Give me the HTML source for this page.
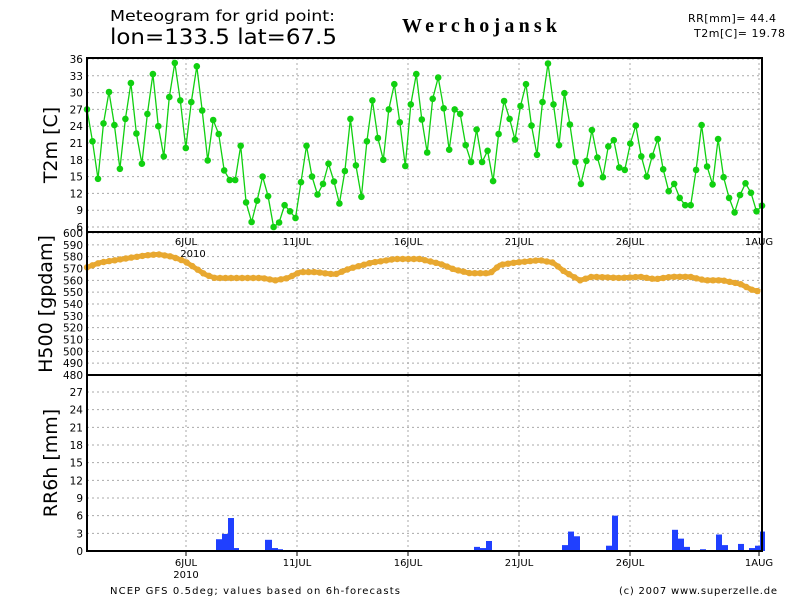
<!DOCTYPE html>
<html><head><meta charset="utf-8"><style>
html,body{margin:0;padding:0;background:#fff;}
svg{display:block;font-family:"DejaVu Sans","Liberation Sans",sans-serif;}
</style></head><body>
<svg id="s" width="800" height="600" viewBox="0 0 800 600" xmlns="http://www.w3.org/2000/svg">
<rect width="800" height="600" fill="#fff"/>
<text x="110" y="21" font-size="15" textLength="225" lengthAdjust="spacingAndGlyphs">Meteogram for grid point:</text>
<text x="110" y="44" font-size="21" textLength="227" lengthAdjust="spacingAndGlyphs">lon=133.5 lat=67.5</text>
<text x="402" y="32" font-size="20" font-weight="bold" font-family="Liberation Serif,serif" textLength="155" lengthAdjust="spacing">Werchojansk</text>
<text x="688" y="22" font-size="11" textLength="88">RR[mm]= 44.4</text>
<text x="694" y="37" font-size="11" textLength="91">T2m[C]= 19.78</text>
<text transform="translate(57,145) rotate(-90)" font-size="19" text-anchor="middle">T2m [C]</text>
<text transform="translate(52,304) rotate(-90)" font-size="19" text-anchor="middle">H500 [gpdam]</text>
<text transform="translate(57,463) rotate(-90)" font-size="19" text-anchor="middle">RR6h [mm]</text>
<text x="110" y="594" font-size="10" textLength="290">NCEP GFS 0.5deg; values based on 6h-forecasts</text>
<text x="619" y="594" font-size="10" textLength="158">(c) 2007 www.superzelle.de</text>
<g id="g"></g>
</svg>
<script>
var g=document.getElementById('g'),h='';
var X0=87,X1=762;
function el(s){h+=s;}
var xs=[186,297,408,519,630,759],lab=['6JUL','11JUL','16JUL','21JUL','26JUL','1AUG'];
function vgrid(y0,y1){xs.forEach(function(x){el('<line x1="'+x+'" y1="'+y0+'" x2="'+x+'" y2="'+y1+'" stroke="#aaa" stroke-dasharray="2,3"/>');});}
function yT(v){return 59+(36-v)*(168/30);}
vgrid(58,232);
for(var v=6;v<=36;v+=3){var y=yT(v);el('<line x1="'+X0+'" y1="'+y+'" x2="'+X1+'" y2="'+y+'" stroke="#aaa" stroke-dasharray="2,3"/>');el('<text x="83" y="'+(y+4)+'" font-size="10.5" text-anchor="end">'+v+'</text>');}
function yH(v){return 233+(600-v)*(142/120);}
vgrid(232,375);
for(var v=480;v<=600;v+=10){var y=yH(v);el('<line x1="'+X0+'" y1="'+y+'" x2="'+X1+'" y2="'+y+'" stroke="#aaa" stroke-dasharray="2,3"/>');el('<text x="83" y="'+(y+4)+'" font-size="10.5" text-anchor="end">'+v+'</text>');}
function yR(v){return 551-v*(159/27);}
vgrid(375,551);
for(var v=0;v<=27;v+=3){var y=yR(v);el('<line x1="'+X0+'" y1="'+y+'" x2="'+X1+'" y2="'+y+'" stroke="#aaa" stroke-dasharray="2,3"/>');el('<text x="83" y="'+(y+4)+'" font-size="10.5" text-anchor="end">'+v+'</text>');}
xs.forEach(function(x,i){el('<text x="'+x+'" y="245" font-size="10" text-anchor="middle">'+lab[i]+'</text>');el('<text x="'+x+'" y="566" font-size="10" text-anchor="middle">'+lab[i]+'</text>');
el('<line x1="'+x+'" y1="551" x2="'+x+'" y2="556" stroke="#000"/>');});
el('<text x="193" y="257" font-size="10" text-anchor="middle">2010</text>');
el('<text x="186" y="578" font-size="10" text-anchor="middle">2010</text>');
var bars=[[216,222,2],[222,228,2.9],[228,234,5.6],[234,239,0.5],[265,272,1.9],[272,278,0.5],[278,283,0.3],[283,289,0.1],[474,480,0.7],[480,486,0.5],[486,492,1.7],[562,568,1],[568,574,3.3],[574,580,2.5],[606,612,0.9],[612,618,6],[618,624,0.1],[662,672,0.1],[672,678,3.6],[678,684,2.1],[684,690,0.7],[700,706,0.3],[716,722,2.8],[722,728,1],[738,744,1.2],[749,755,0.5],[755,760,0.9],[760,765,3.3]];
bars.forEach(function(b){var y=yR(b[2]);el('<rect x="'+b[0]+'" y="'+y+'" width="'+(b[1]-b[0])+'" height="'+(551-y)+'" fill="#2040ff"/>');});
var hp=[[87,571],[100,575],[115,577],[130,579],[145,581],[158,582],[172,580],[185,576],[196,570],[205,565],[215,562],[240,562],[262,562],[275,560],[288,562],[300,567],[315,567],[335,565],[350,570],[372,575],[395,578],[420,578],[440,574],[455,569],[470,566],[490,566],[500,573],[515,575],[540,577],[553,575],[565,567],[580,560],[592,563],[620,562],[640,563],[655,561],[672,563],[690,563],[705,560],[722,560],[740,557],[752,552],[762,550]];
var hpts=[];for(var x=87;x<=762;x+=2.77){for(var k=0;k<hp.length-1&&hp[k+1][0]<x;k++);var a=hp[k],b=hp[k+1]||a;var t=b[0]==a[0]?0:(x-a[0])/(b[0]-a[0]);hpts.push([x,yH(a[1]+(b[1]-a[1])*t)]);}
el('<polyline fill="none" stroke="#e8a830" stroke-width="5" points="'+hpts.map(function(p){return p[0].toFixed(1)+','+p[1].toFixed(1)}).join(' ')+'"/>');
hpts.forEach(function(p,i){if(i%2==0)el('<circle cx="'+p[0].toFixed(1)+'" cy="'+p[1].toFixed(1)+'" r="3.2" fill="#e8a830"/>');});
var T=[27,21.3,14.6,24.5,30.1,24.2,16.4,25.3,31.7,22.7,17.3,26.2,33.3,24,18.6,29.2,35.3,28.6,20.1,28.3,34.7,26.8,17.9,25.1,22.6,16.1,14.4,14.4,20.5,10.4,6.9,10.7,15,11.5,6,6.8,9.9,8.8,7.6,14,20.5,15,11.8,13.7,17.3,14.1,10.2,16,25.3,17,11.4,21.3,28.6,21.9,18,27,31.5,24.7,16.9,27.9,33.3,25.2,19.3,28.9,32.7,27.2,19.8,27,26.2,20.6,17.6,23.4,17.6,19.6,14.2,22.6,28.5,25.3,21.6,27.6,31.5,24.1,18.9,28.3,35.2,27.9,20.6,29.9,24.3,17.6,13.7,17.8,23.3,18.4,14.9,20.4,21.5,16.6,16.2,20.9,24.1,18.6,15,18.7,21.7,16.3,12.4,13.7,11.2,9.9,9.9,16.2,24.2,16.8,13.6,21.7,14.9,11.2,8.6,11.7,13.8,12.1,8.8,9.8];
var st=(X1-X0)/(T.length-1),tp=T.map(function(v,i){return [X0+i*st,yT(v)]});
el('<polyline fill="none" stroke="#10d010" stroke-width="1.3" points="'+tp.map(function(p){return p[0].toFixed(1)+','+p[1].toFixed(1)}).join(' ')+'"/>');
tp.forEach(function(p){el('<circle cx="'+p[0].toFixed(1)+'" cy="'+p[1].toFixed(1)+'" r="3.3" fill="#10d010"/>');});
el('<rect x="'+X0+'" y="58" width="'+(X1-X0)+'" height="493" fill="none" stroke="#000" stroke-width="2"/>');
el('<line x1="'+X0+'" y1="232" x2="'+X1+'" y2="232" stroke="#000" stroke-width="2"/>');
el('<line x1="'+X0+'" y1="375" x2="'+X1+'" y2="375" stroke="#000" stroke-width="2"/>');
g.innerHTML=h;
</script>
</body></html>
